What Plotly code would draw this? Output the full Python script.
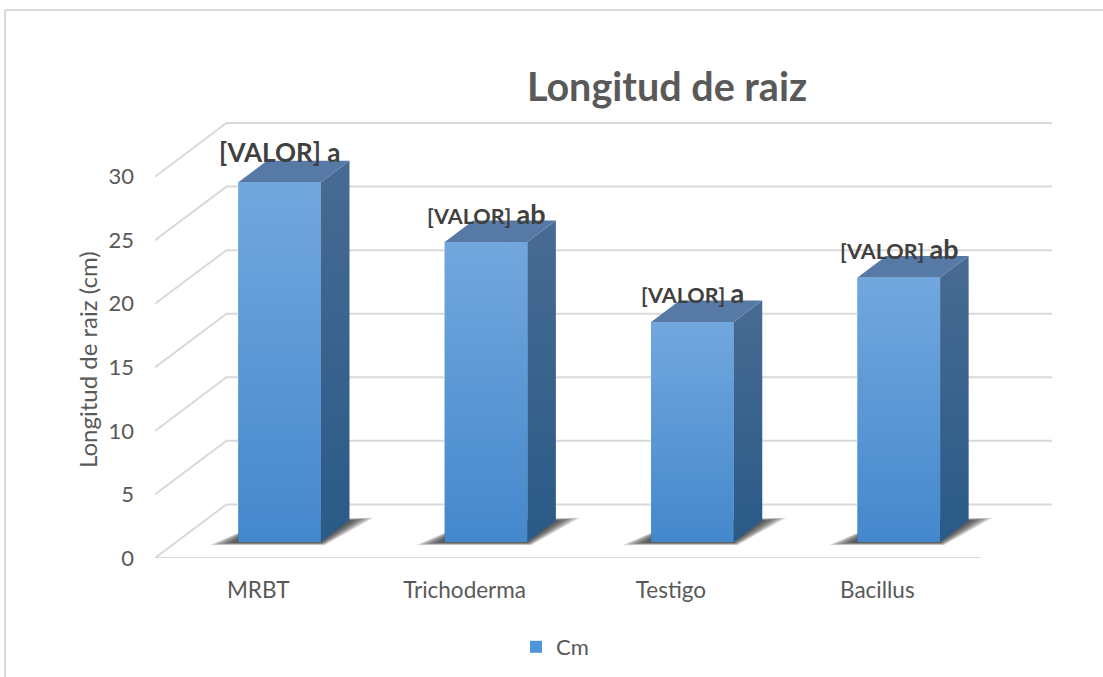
import plotly.graph_objects as go

categories = ["MRBT", "Trichoderma", "Testigo", "Bacillus"]
values = [28.3, 23.6, 17.3, 20.8]
letters = ["a", "ab", "a", "ab"]
y_ticks = [0, 5, 10, 15, 20, 25, 30]

# oblique projection of the 3D box, depth goes from 0 (front) to 1 (back wall)
DEPTH_X = 71.5 / 206.5   # slots
DEPTH_Y = 53.7 / 12.73   # y units
BAR_W = 0.4
D_FRONT, D_BACK = 0.3, 0.7

# label font sizes and lift, in pixels
label_size = [26, 21.5, 21.5, 21.5]
letter_size = [26, 27, 27, 27]
label_lift = [2, 0, 1, 1]

GRID = "#d9d9d9"
FONT = "Lato"
W_PLOT, H_PLOT = 897, 436


def pt(x, v, d):
    return x + d * DEPTH_X, v + d * DEPTH_Y


def poly(points, **kw):
    xs, ys = zip(*[pt(*p) for p in points])
    return go.Scatter(x=list(xs) + [xs[0]], y=list(ys) + [ys[0]], mode="lines", fill="toself",
                      line=dict(width=0), hoverinfo="skip", showlegend=False, **kw)


fig = go.Figure()

# real bars, they carry the legend entry
fig.add_trace(go.Bar(
    x=[i + D_FRONT * DEPTH_X for i in range(len(values))],
    y=values,
    base=D_FRONT * DEPTH_Y,
    width=BAR_W,
    name="Cm",
    marker=dict(color="#4f94d8", line=dict(width=0)),
    showlegend=True,
))

# walls
for v in y_ticks:
    xs = [-0.5, -0.5 + DEPTH_X, 3.5 + DEPTH_X]
    ys = [v, v + DEPTH_Y, v + DEPTH_Y]
    fig.add_trace(go.Scatter(x=xs, y=ys, mode="lines", line=dict(color=GRID, width=2),
                             hoverinfo="skip", showlegend=False, cliponaxis=False))
fig.add_trace(go.Scatter(x=[-0.5, 3.5], y=[0, 0], mode="lines", line=dict(color=GRID, width=2),
                         hoverinfo="skip", showlegend=False, cliponaxis=False))

for i, v in enumerate(values):
    l, r = i - BAR_W / 2, i + BAR_W / 2

    # soft shadow on the floor, stacked layers fake the blur
    for g in [1.0, 0.9, 0.8, 0.7, 0.6, 0.5, 0.4, 0.3, 0.2, 0.1, 0.0]:
        fig.add_trace(poly(
            [(l - 0.02 - 0.10 * g, 0, D_FRONT - 0.01 - 0.05 * g),
             (l, 0, D_BACK),
             (r + 0.01 + 0.09 * g, 0, D_BACK + 0.05 * g),
             (r + 0.04 * g, 0, D_FRONT - 0.01 - 0.05 * g)],
            fillcolor="rgba(40,40,40,0.12)",
        ))

    # side face
    fig.add_trace(poly(
        [(r, 0, D_FRONT), (r, 0, D_BACK), (r, v, D_BACK), (r, v, D_FRONT)],
        fillgradient=dict(type="vertical", colorscale=[[0, "#2a5a87"], [1, "#486b92"]]),
    ))
    # top face
    fig.add_trace(poly(
        [(l, v, D_FRONT), (l, v, D_BACK), (r, v, D_BACK), (r, v, D_FRONT)],
        fillcolor="#5679a6",
    ))
    # front face
    fig.add_trace(poly(
        [(l, 0, D_FRONT), (l, v, D_FRONT), (r, v, D_FRONT), (r, 0, D_FRONT)],
        fillgradient=dict(type="vertical", colorscale=[[0, "#4488cc"], [1, "#72a7de"]]),
    ))

    lx = pt(i, v, D_FRONT)[0]
    ly = pt(i, v, D_BACK)[1]
    fig.add_annotation(
        x=lx, y=ly + 0.55, yshift=label_lift[i], showarrow=False,
        text=f'<b><span style="font-size:{label_size[i]}px">[VALOR]</span> '
             f'<span style="font-size:{letter_size[i]}px">{letters[i]}</span></b>',
        font=dict(family=FONT, color="#404040", size=label_size[i]),
    )

# axis title sits below the middle of the plot area, so it goes in as an annotation
fig.add_annotation(
    text="Longitud de raiz (cm)", textangle=-90, showarrow=False,
    xref="paper", yref="paper", x=(87 - 155) / W_PLOT, y=1 + (122 - 360) / H_PLOT,
    xanchor="center", yanchor="middle",
    font=dict(family=FONT, size=24, color="#595959"),
)

# chart frame, top and left edges only are inside the picture
frame = dict(type="line", xref="paper", yref="paper", line=dict(color=GRID, width=2))
fig.add_shape(x0=(5 - 155) / W_PLOT, x1=(1103 - 155) / W_PLOT,
              y0=1 + (122 - 10) / H_PLOT, y1=1 + (122 - 10) / H_PLOT, **frame)
fig.add_shape(x0=(5 - 155) / W_PLOT, x1=(5 - 155) / W_PLOT,
              y0=1 + (122 - 10) / H_PLOT, y1=1 + (122 - 677) / H_PLOT, **frame)

fig.update_layout(
    width=1103,
    height=677,
    margin=dict(l=155, r=51, t=122, b=119),
    paper_bgcolor="white",
    plot_bgcolor="rgba(0,0,0,0)",
    font=dict(family=FONT, color="#595959"),
    title=dict(text="<b>Longitud de raiz</b>", x=667 / 1103, xanchor="center", y=1 - 87 / 677,
               yanchor="middle", font=dict(size=39.5, family=FONT, color="#595959")),
    legend=dict(orientation="h", xref="container", yref="container", x=516 / 1103, y=1 - 647 / 677,
                xanchor="left", yanchor="middle", font=dict(size=22, family=FONT, color="#595959")),
    xaxis=dict(range=[-0.5, 3.5 + DEPTH_X], tickvals=list(range(len(categories))), ticktext=categories,
               tickfont=dict(size=22.5), ticklabelstandoff=16, showgrid=False, zeroline=False,
               showline=False, ticks=""),
    yaxis=dict(range=[0, 34.3], tickvals=y_ticks, tickfont=dict(size=22), ticklabelstandoff=20,
               showgrid=False, zeroline=False, showline=False, ticks=""),
)

fig.write_html("out.html", post_script="document.body.style.margin='0'",
               config=dict(displayModeBar=False))
